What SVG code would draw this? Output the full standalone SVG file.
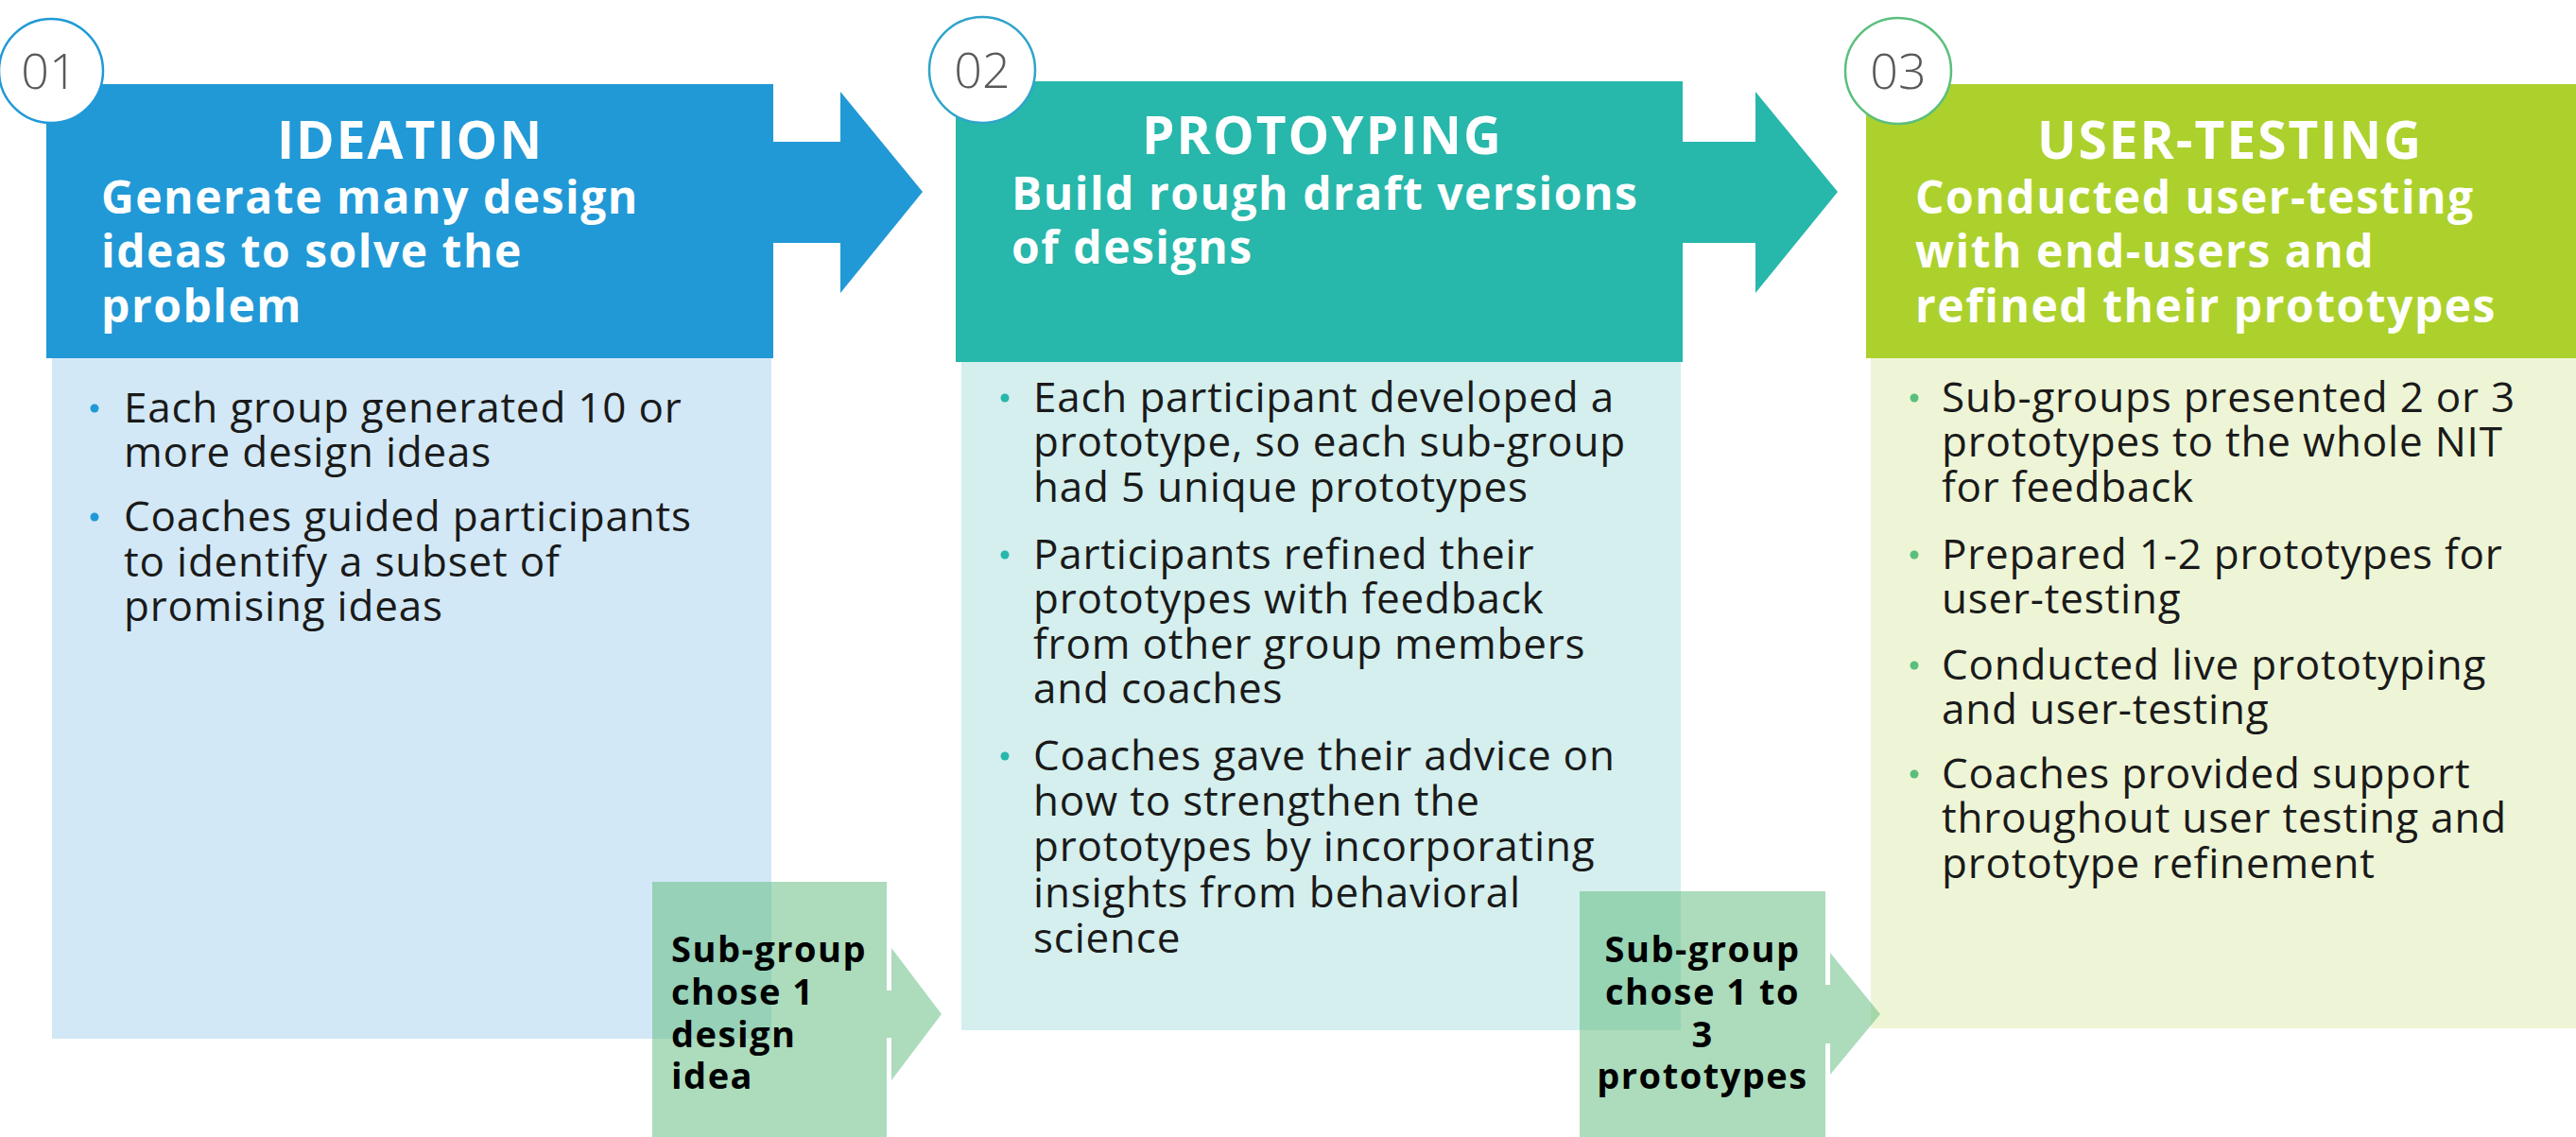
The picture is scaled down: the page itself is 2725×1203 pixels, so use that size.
<svg xmlns="http://www.w3.org/2000/svg" width="2725" height="1203" viewBox="0 0 2725 1203">
<style>
.title{font-family:"Open Sans","Liberation Sans",sans-serif;font-weight:700;font-size:55px;letter-spacing:2px;fill:#ffffff;text-anchor:middle}
.sub{font-family:"Open Sans","Liberation Sans",sans-serif;font-weight:700;font-size:48px;letter-spacing:1.5px;fill:#ffffff}
.body{font-family:"Open Sans","Liberation Sans",sans-serif;font-weight:400;font-size:44px;letter-spacing:0.8px;fill:#1a1a1a}
.num{font-family:"Open Sans","Liberation Sans",sans-serif;font-weight:300;font-size:52px;fill:#58595b;text-anchor:middle}
.sg{font-family:"Open Sans","Liberation Sans",sans-serif;font-weight:700;font-size:38px;letter-spacing:1.5px;fill:#000000}
.sgbox{fill:#5ab97a;fill-opacity:0.5}
</style>
<rect width="2725" height="1203" fill="#ffffff"/>

<g id="stage1">
  <path d="M49,89 H818 V150 H889 V97 L976,203 L889,310 V257 H818 V379 H49 Z" fill="#2199d6"/>
  <rect x="55" y="379" width="761" height="720" fill="#d2e8f6"/>
  <text class="title" x="434" y="168">IDEATION</text>
  <text class="sub" x="107" y="226">Generate many design</text>
  <text class="sub" x="107" y="283">ideas to solve the</text>
  <text class="sub" x="107" y="341">problem</text>
  <g fill="#2199d6"><circle cx="100" cy="432" r="4.5"/><circle cx="100" cy="547" r="4.5"/></g>
  <text class="body" x="131" y="447">Each group generated 10 or</text>
  <text class="body" x="131" y="494">more design ideas</text>
  <text class="body" x="131" y="562">Coaches guided participants</text>
  <text class="body" x="131" y="610">to identify a subset of</text>
  <text class="body" x="131" y="657">promising ideas</text>
  <circle cx="54" cy="75" r="55" fill="#ffffff" stroke="#2199d6" stroke-width="2.5"/>
  <text class="num" x="52" y="94">01</text>
</g>

<g id="stage2">
  <path d="M1011,86 H1780 V150 H1857 V97 L1944,203 L1857,310 V257 H1780 V383 H1011 Z" fill="#27b7ab"/>
  <rect x="1017" y="383" width="761" height="707" fill="#d4efee"/>
  <text class="title" x="1399" y="163">PROTOYPING</text>
  <text class="sub" x="1070" y="222">Build rough draft versions</text>
  <text class="sub" x="1070" y="279">of designs</text>
  <g fill="#27b7ab"><circle cx="1063" cy="421" r="4.5"/><circle cx="1063" cy="587" r="4.5"/><circle cx="1063" cy="800" r="4.5"/></g>
  <text class="body" x="1093" y="436">Each participant developed a</text>
  <text class="body" x="1093" y="483">prototype, so each sub-group</text>
  <text class="body" x="1093" y="531">had 5 unique prototypes</text>
  <text class="body" x="1093" y="602">Participants refined their</text>
  <text class="body" x="1093" y="649">prototypes with feedback</text>
  <text class="body" x="1093" y="697">from other group members</text>
  <text class="body" x="1093" y="744">and coaches</text>
  <text class="body" x="1093" y="815">Coaches gave their advice on</text>
  <text class="body" x="1093" y="863">how to strengthen the</text>
  <text class="body" x="1093" y="911">prototypes by incorporating</text>
  <text class="body" x="1093" y="960">insights from behavioral</text>
  <text class="body" x="1093" y="1008">science</text>
  <circle cx="1039" cy="74" r="56" fill="#ffffff" stroke="#2fa5c9" stroke-width="2.5"/>
  <text class="num" x="1039" y="93">02</text>
</g>

<g id="stage3">
  <rect x="1974" y="89" width="751" height="290" fill="#acd12c"/>
  <rect x="1979" y="379" width="746" height="709" fill="#eef5d6"/>
  <text class="title" x="2359" y="168">USER-TESTING</text>
  <text class="sub" x="2026" y="226">Conducted user-testing</text>
  <text class="sub" x="2026" y="283">with end-users and</text>
  <text class="sub" x="2026" y="341">refined their prototypes</text>
  <g fill="#5bbf7c"><circle cx="2025" cy="421" r="4.5"/><circle cx="2025" cy="587" r="4.5"/><circle cx="2025" cy="704" r="4.5"/><circle cx="2025" cy="819" r="4.5"/></g>
  <text class="body" x="2054" y="436">Sub-groups presented 2 or 3</text>
  <text class="body" x="2054" y="483">prototypes to the whole NIT</text>
  <text class="body" x="2054" y="531">for feedback</text>
  <text class="body" x="2054" y="602">Prepared 1-2 prototypes for</text>
  <text class="body" x="2054" y="649">user-testing</text>
  <text class="body" x="2054" y="719">Conducted live prototyping</text>
  <text class="body" x="2054" y="766">and user-testing</text>
  <text class="body" x="2054" y="834">Coaches provided support</text>
  <text class="body" x="2054" y="881">throughout user testing and</text>
  <text class="body" x="2054" y="929">prototype refinement</text>
  <circle cx="2008" cy="75" r="56" fill="#ffffff" stroke="#5bbf7c" stroke-width="2.5"/>
  <text class="num" x="2008" y="94">03</text>
</g>

<g id="connectors">
  <g id="decision1">
    <path class="sgbox" d="M690,933 H938 V1048 H943 V1003 L996,1073 L943,1143 V1098 H938 V1203 H690 Z"/>
    <text class="sg" x="710" y="1018">Sub-group</text>
    <text class="sg" x="710" y="1063">chose 1</text>
    <text class="sg" x="710" y="1108">design</text>
    <text class="sg" x="710" y="1152">idea</text>
  </g>
  <g id="decision2">
    <path class="sgbox" d="M1671,943 H1931 V1042 H1936 V1008 L1989,1073 L1936,1137 V1104 H1931 V1203 H1671 Z"/>
    <g class="sg" text-anchor="middle">
      <text x="1801" y="1018">Sub-group</text>
      <text x="1801" y="1063">chose 1 to</text>
      <text x="1801" y="1108">3</text>
      <text x="1801" y="1152">prototypes</text>
    </g>
  </g>
</g>
</svg>
